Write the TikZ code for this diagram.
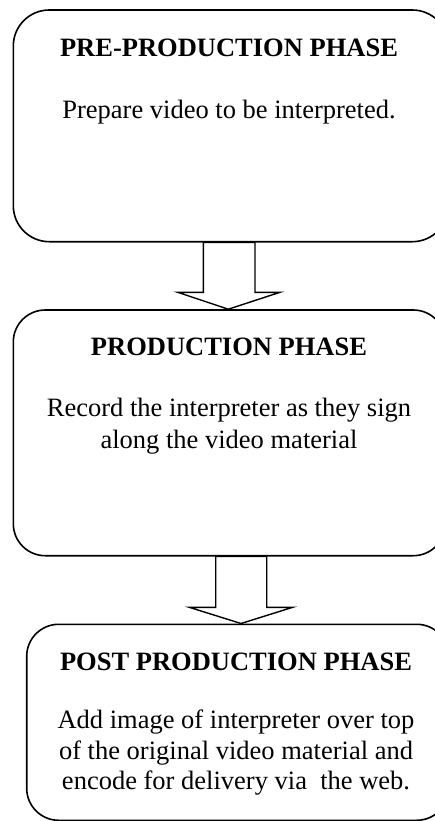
\documentclass[tikz,border=0pt]{standalone}
\usepackage{fontspec}
\setmainfont{Liberation Serif}
\usetikzlibrary{calc}
\tikzset{
  phasebox/.style={draw, line width=1.6pt, inner sep=0pt, fill=white},
  titletext/.style={anchor=base, inner sep=0pt, font=\bfseries\fontsize{26.5}{30}\selectfont},
  bodytext/.style={anchor=base, inner sep=0pt, font=\fontsize{26.5}{30}\selectfont},
  blockarrow/.style={draw, line width=1.4pt, fill=white, line join=miter}
}
\begin{document}
\begin{tikzpicture}[x=1pt,y=-1pt]
\useasboundingbox (0,0) rectangle (435,821);
\clip (0,0) rectangle (435,821);
% boxes
\node[phasebox, rounded corners=36pt, minimum width=435pt, minimum height=231.7pt] (b1) at (230.8,125.85) {};
\node[phasebox, rounded corners=32pt, minimum width=432pt, minimum height=245.7pt] (b2) at (229.3,432.85) {};
\node[phasebox, rounded corners=32pt, minimum width=422pt, minimum height=196pt] (b3) at (237.7,722.3) {};
% guide coordinates for the block arrows
\coordinate (a1l) at (203.3,0);
\coordinate (a1r) at (255,0);
\coordinate (a1t) at (228.3,0);
\coordinate (a2l) at (215.7,0);
\coordinate (a2r) at (266.7,0);
\coordinate (a2t) at (241,0);
% block arrows
\draw[blockarrow] (a1l |- b1.south) -- (203.3,292.3) -- (177.7,292.3) -- (a1t |- b2.north) -- (280,292.3) -- (255,292.3) -- (a1r |- b1.south) -- cycle;
\draw[blockarrow] (a2l |- b2.south) -- (215.7,607.3) -- (189.3,607.3) -- (a2t |- b3.north) -- (292.7,607.3) -- (266.7,607.3) -- (a2r |- b2.south) -- cycle;
% texts
\node[titletext] (t1) at (229,56.7) {PRE-PRODUCTION PHASE};
\node[bodytext] (p1) at (229,118.3) {Prepare video to be interpreted.};
\node[titletext] (t2) at (229,355) {PRODUCTION PHASE};
\node[bodytext] (p2a) at (229,416.7) {Record the interpreter as they sign};
\node[bodytext] (p2b) at (229,448.3) {along the video material};
\node[titletext] (t3) at (236,670) {POST PRODUCTION PHASE};
\node[bodytext] (p3a) at (236,728.5) {Add image of interpreter over top};
\node[bodytext] (p3b) at (236,759.3) {of the original video material and};
\node[bodytext] (p3c) at (236,789.5) {encode for delivery via\ \ the web.};
\end{tikzpicture}
\end{document}
